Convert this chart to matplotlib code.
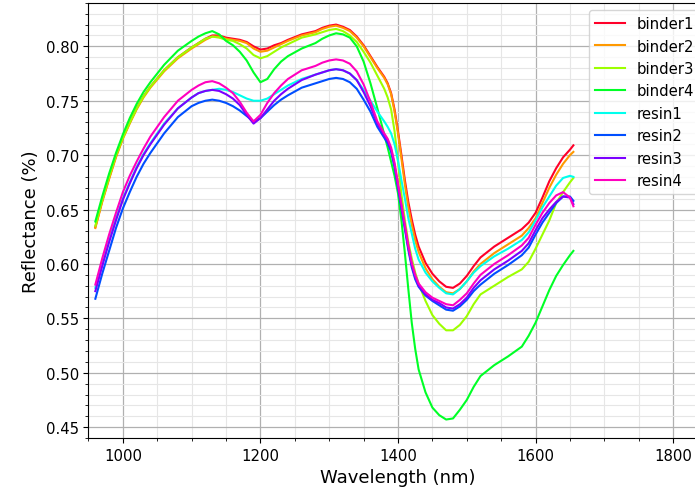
import matplotlib
matplotlib.use("Agg")
import matplotlib.pyplot as plt
import numpy as np
from matplotlib.ticker import MultipleLocator

wavelength = [960, 970, 980, 990, 1000, 1010, 1020, 1030, 1040, 1060, 1080, 1100, 1110,
              1120, 1130, 1140, 1150, 1160, 1170, 1180, 1190, 1200, 1210, 1220, 1230,
              1240, 1260, 1280, 1290, 1300, 1310, 1320, 1330, 1340, 1350, 1360, 1370,
              1380, 1385, 1390, 1395, 1400, 1405, 1410, 1415, 1420, 1425, 1430, 1440,
              1450, 1460, 1470, 1480, 1490, 1500, 1510, 1520, 1540, 1560, 1580, 1590,
              1600, 1610, 1620, 1630, 1640, 1650, 1655]

binder1 = [.634, .658, .679, .699, .716, .730, .743, .754, .763, .778, .790, .799, .803,
           .807, .810, .810, .808, .807, .806, .804, .800, .797, .798, .801, .803,
           .806, .811, .814, .817, .819, .820, .818, .815, .809, .801, .791, .781,
           .772, .766, .757, .742, .722, .700, .677, .657, .641, .627, .616, .601,
           .591, .584, .579, .578, .582, .589, .598, .606, .616, .624, .632, .638,
           .647, .661, .676, .688, .698, .705, .709]
binder2 = [.633, .657, .678, .698, .715, .729, .742, .753, .762, .777, .789, .798, .802,
           .806, .809, .809, .807, .806, .805, .803, .798, .795, .796, .799, .802,
           .805, .810, .813, .816, .818, .819, .817, .814, .808, .800, .790, .780,
           .771, .765, .756, .740, .720, .697, .673, .652, .636, .622, .611, .596,
           .586, .579, .574, .573, .577, .584, .593, .600, .610, .618, .626, .633,
           .642, .656, .670, .682, .692, .700, .703]
binder3 = [.635, .659, .680, .700, .716, .730, .743, .754, .763, .778, .790, .799, .803,
           .807, .809, .808, .806, .805, .802, .798, .792, .789, .791, .795, .799,
           .802, .808, .811, .813, .815, .816, .814, .810, .804, .795, .785, .773,
           .761, .753, .742, .722, .694, .664, .640, .620, .605, .592, .582, .566,
           .553, .545, .539, .539, .544, .552, .563, .572, .580, .588, .595, .602,
           .614, .627, .640, .656, .666, .675, .679]
binder4 = [.639, .662, .683, .702, .719, .734, .747, .758, .767, .783, .796, .805, .809,
           .812, .814, .811, .805, .801, .795, .787, .776, .767, .770, .779, .786,
           .791, .798, .803, .807, .810, .812, .811, .808, .800, .786, .766, .743,
           .719, .707, .694, .681, .665, .640, .610, .577, .546, .522, .503, .482,
           .468, .461, .457, .458, .466, .475, .487, .497, .507, .515, .524, .534,
           .546, .561, .576, .589, .599, .608, .612]
resin1 = [.578, .601, .622, .642, .660, .675, .689, .701, .711, .729, .743, .753, .757,
          .759, .760, .761, .760, .758, .755, .752, .750, .750, .752, .756, .760,
          .764, .770, .774, .776, .778, .779, .778, .775, .769, .760, .750, .740,
          .731, .726, .720, .710, .695, .677, .660, .642, .628, .614, .604, .592,
          .584, .578, .573, .572, .577, .584, .592, .598, .607, .614, .622, .629,
          .640, .652, .662, .672, .679, .681, .680]
resin2 = [.568, .591, .612, .633, .651, .666, .680, .692, .702, .720, .735, .745, .748,
          .750, .751, .750, .748, .745, .741, .736, .731, .734, .740, .746, .751,
          .755, .762, .766, .768, .770, .771, .770, .767, .761, .751, .740, .726,
          .716, .711, .703, .689, .670, .651, .632, .613, .597, .586, .579, .571,
          .566, .562, .558, .557, .561, .567, .575, .581, .591, .599, .608, .615,
          .627, .638, .647, .656, .662, .662, .658]
resin3 = [.575, .598, .620, .640, .659, .674, .688, .700, .710, .728, .743, .753, .757,
          .759, .760, .759, .756, .752, .746, .737, .729, .734, .742, .750, .756,
          .761, .769, .774, .776, .778, .779, .778, .775, .769, .758, .745, .729,
          .718, .713, .705, .691, .672, .653, .634, .615, .599, .588, .580, .572,
          .567, .564, .560, .559, .563, .569, .578, .585, .595, .603, .612, .619,
          .631, .642, .650, .657, .662, .661, .655]
resin4 = [.581, .605, .627, .647, .666, .681, .694, .706, .717, .735, .750, .760, .764,
          .767, .768, .766, .762, .757, .749, .739, .731, .737, .748, .757, .764,
          .770, .778, .782, .785, .787, .788, .787, .784, .777, .765, .749, .731,
          .720, .715, .707, .693, .674, .655, .636, .617, .601, .590, .582, .574,
          .569, .566, .563, .562, .567, .573, .582, .590, .600, .608, .617, .624,
          .636, .647, .656, .663, .666, .661, .653]

names = ["binder1", "binder2", "binder3", "binder4", "resin1", "resin2", "resin3", "resin4"]
series = [binder1, binder2, binder3, binder4, resin1, resin2, resin3, resin4]

fig = plt.figure(figsize=(6.95, 4.89), dpi=100)
ax = fig.add_axes([0.1273, 0.1022, 0.8907, 0.89])

colors = plt.cm.gist_rainbow(np.linspace(0, 1, len(names)))
for name, vals, c in zip(names, series, colors):
    ax.plot(wavelength, vals, color=c, linewidth=1.5, label=name,
            solid_joinstyle="round")

ax.set_xlim(950, 1850)
ax.set_ylim(0.44, 0.84)
ax.xaxis.set_major_locator(MultipleLocator(200))
ax.xaxis.set_minor_locator(MultipleLocator(50))
ax.yaxis.set_major_locator(MultipleLocator(0.05))
ax.yaxis.set_minor_locator(MultipleLocator(0.01))
ax.grid(which="major", color="#b0b0b0", linewidth=0.9)
ax.grid(which="minor", color="#e6e6e6", linewidth=0.8)
ax.set_axisbelow(True)
ax.tick_params(labelsize=10.7)

ax.set_xlabel("Wavelength (nm)", fontsize=13)
ax.set_ylabel("Reflectance (%)", fontsize=13)
ax.legend(loc="upper right", fontsize=10.7)

fig.savefig("out.png", dpi=100)
